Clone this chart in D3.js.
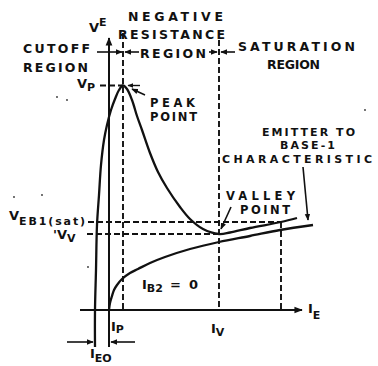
<!DOCTYPE html>
<html>
<head>
<meta charset="utf-8">
<script src="https://cdn.jsdelivr.net/npm/d3@7"></script>
<style>
  body { margin: 0; background: #fff; }
  text { font-family: "DejaVu Sans", "Liberation Sans", sans-serif; font-weight: bold; fill: #111; }
</style>
</head>
<body>
<div id="chart"></div>
<script>
// UJT static emitter characteristic (arbitrary units: I_E along x, V_E along y)

// main curve, I_B2 > 0  [I_E, V_E]
var mainCurve = [
  [-1.4, -3.7], [-1.4, 0], [-1.3, 4.0], [-1.2, 8.5], [-1.0, 11.5], [-0.8, 14.5],
  [-0.5, 17.0], [-0.2, 18.5], [0.2, 20.0], [0.6, 21.1], [1.0, 22.0], [1.4, 22.45],
  [1.8, 22.1], [2.3, 21.0], [2.8, 19.4], [3.3, 18.0], [4.1, 15.7], [4.9, 13.8],
  [5.8, 12.2], [7.1, 10.3], [8.1, 9.1], [9.4, 8.1], [11.0, 7.6], [12.1, 7.75],
  [14.1, 8.2], [17.2, 8.8], [18.8, 9.2]
];

// emitter to base-1 diode curve, I_B2 = 0
var ib2ZeroCurve = [
  [0, 0], [0.1, 0.7], [0.3, 1.4], [0.5, 2.0], [0.8, 2.5], [1.3, 3.1], [2.1, 3.7],
  [2.9, 4.1], [4.1, 4.7], [5.6, 5.3], [8.1, 6.1], [11.0, 6.8], [14.1, 7.4],
  [17.1, 8.0], [20.4, 8.5]
];

// characteristic points
var markCurrents = { iEO: -1.4, iP: 1.4, iV: 11.0, iSat: 17.2 };
var markVoltages = { vP: 22.45, vEB1sat: 8.8, vV: 7.6 };

// axis extents
var xAxisExtent = [-2.9, 19.3],
    yAxisExtent = [-3.7, 27.2];

var width = 378, height = 366;

var x = d3.scaleLinear().domain([0, 20]).range([109, 309]);
var y = d3.scaleLinear().domain([0, 28]).range([310, 30]);

var svg = d3.select("#chart").append("svg")
    .attr("width", width)
    .attr("height", height);

// arrowhead
svg.append("defs").append("marker")
    .attr("id", "arrow")
    .attr("viewBox", "0 0 10 10")
    .attr("refX", 9).attr("refY", 5)
    .attr("markerWidth", 4.2).attr("markerHeight", 4.2)
    .attr("markerUnits", "strokeWidth")
    .attr("orient", "auto")
  .append("path")
    .attr("d", "M0,1 L10,5 L0,9 Z")
    .style("fill", "#111");

function seg(x1, y1, x2, y2, dashed, arrow, w) {
  var l = svg.append("line")
      .attr("x1", x1).attr("y1", y1)
      .attr("x2", x2).attr("y2", y2)
      .style("stroke", "#111")
      .style("stroke-width", w || 1.9);
  if (dashed) l.style("stroke-dasharray", "6,3");
  if (arrow) l.attr("marker-end", "url(#arrow)");
  return l;
}

// axes
seg(x(xAxisExtent[0]), y(0), x(xAxisExtent[1]), y(0), false, true, 2);
seg(x(0), y(yAxisExtent[0]), x(0), y(yAxisExtent[1]), false, true, 2);

// dashed guide lines
seg(x(markCurrents.iP), y(27.7), x(markCurrents.iP), y(0), true);
seg(x(markCurrents.iV), y(27.0), x(markCurrents.iV), y(0), true);
seg(x(markCurrents.iSat), y(markVoltages.vEB1sat), x(markCurrents.iSat), y(0), true);
seg(x(-0.9), y(markVoltages.vP), x(markCurrents.iP), y(markVoltages.vP), true);
seg(x(-2.1), y(markVoltages.vEB1sat), x(markCurrents.iSat), y(markVoltages.vEB1sat), true);
seg(x(-2.2), y(markVoltages.vV), x(markCurrents.iV), y(markVoltages.vV), true);

// curves
var line = d3.line()
    .x(function(d) { return x(d[0]); })
    .y(function(d) { return y(d[1]); })
    .curve(d3.curveCatmullRom.alpha(0.5));

svg.append("path")
    .datum(mainCurve)
    .attr("d", line)
    .style("fill", "none")
    .style("stroke", "#111")
    .style("stroke-width", 2.3);

svg.append("path")
    .datum(ib2ZeroCurve)
    .attr("d", line)
    .style("fill", "none")
    .style("stroke", "#111")
    .style("stroke-width", 2.3);

// region boundary arrows
var yReg = y(25.8);
seg(x(-1.2), yReg, x(markCurrents.iP) - 1, yReg, false, true, 1.6);
seg(x(markCurrents.iP) + 16, yReg, x(markCurrents.iP) + 2, yReg, false, true, 1.6);
seg(x(markCurrents.iV) - 10, yReg, x(markCurrents.iV) - 2, yReg, false, true, 1.6);
seg(x(markCurrents.iV) + 16, yReg, x(markCurrents.iV) + 2, yReg, false, true, 1.6);

// I_EO arrows
var yEO = y(-3.2);
seg(x(markCurrents.iEO) - 28, yEO, x(markCurrents.iEO) - 2, yEO, false, true, 1.6);
seg(x(0) + 26, yEO, x(0) + 2, yEO, false, true, 1.6);

// pointer arrows
seg(x(markCurrents.iP) + 17, y(markVoltages.vP), x(markCurrents.iP) + 5, y(markVoltages.vP), false, true, 1.4);
seg(145, 95, 132, 89, false, true, 1.6);
seg(231, 207, 221, 229, false, true, 1.6);
seg(303, 167, 308, 220, false, true, 1.6);

// text labels
function label(t, x0, y0, w, size) {
  var el = svg.append("text")
      .attr("x", x0).attr("y", y0)
      .style("font-size", (size || 12.5) + "px")
      .text(t);
  if (w) el.attr("textLength", w).attr("lengthAdjust", "spacing");
  return el;
}

label("NEGATIVE", 128, 21, 95);
label("RESISTANCE", 118, 39, 107);
label("REGION", 140, 58, 66);
label("CUTOFF", 23, 53, 67);
label("REGION", 23, 72, 65);
label("SATURATION", 238, 51, 117);
label("REGION", 267, 69, 53);
label("PEAK", 150, 107, 45, 11.5);
label("POINT", 150, 121, 47, 11.5);
label("VALLEY", 226, 200, 69, 11.5);
label("POINT", 240, 214, 50, 11.5);
label("EMITTER TO", 262, 136, 93, 11);
label("BASE-1", 280, 149, 55, 11);
label("CHARACTERISTIC", 222, 163, 150, 11);

// symbols with sub/superscripts
function sym(main, sub, x0, y0, dy, subW) {
  var el = svg.append("text")
      .attr("x", x0).attr("y", y0)
      .style("font-size", "13px");
  el.append("tspan").text(main);
  var s = el.append("tspan")
      .attr("dy", dy)
      .style("font-size", "11px")
      .text(sub);
  if (subW) s.attr("textLength", subW).attr("lengthAdjust", "spacing");
  return el;
}

sym("V", "E", 89, 32, -6);
sym("V", "P", 77, 88, 3);
sym("V", "EB1(sat)", 9, 220, 5, 66);
sym("'V", "V", 53, 239, 3);
sym("I", "B2", 142, 289, 3);
label("= 0", 170, 289, 28, 13);
sym("I", "P", 111, 331, 2);
sym("I", "V", 211, 333, 3);
sym("I", "E", 308, 313, 6);
sym("I", "EO", 90, 358, 4);

// scan specks
var specks = [[57, 97], [67, 100], [14, 197], [42, 195], [88, 267], [365, 110]];
svg.selectAll(".speck").data(specks).enter().append("circle")
    .attr("class", "speck")
    .attr("cx", function(d) { return d[0]; })
    .attr("cy", function(d) { return d[1]; })
    .attr("r", 0.9)
    .style("fill", "#333");
</script>
</body>
</html>
